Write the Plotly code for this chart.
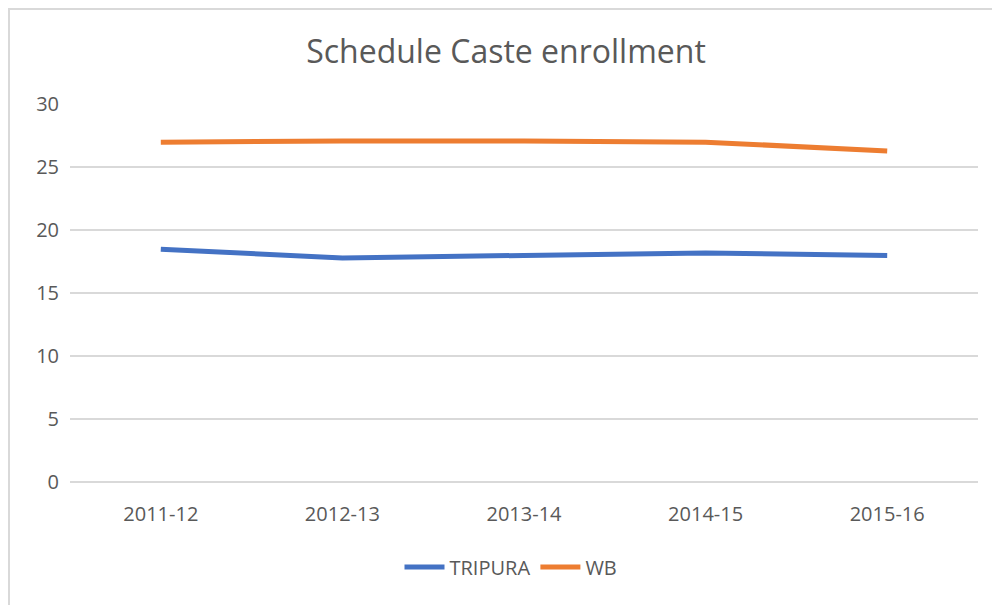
import plotly.graph_objects as go

years = ["2011-12", "2012-13", "2013-14", "2014-15", "2015-16"]
tripura = [18.5, 17.8, 18.0, 18.2, 18.0]
wb = [27.0, 27.1, 27.1, 27.0, 26.3]
y_ticks = [0, 5, 10, 15, 20, 25, 30]

TEXT = "#595959"
GRID = "#d9d9d9"
FONT = "Open Sans"

fig = go.Figure()
fig.add_trace(go.Scatter(x=years, y=tripura, name="TRIPURA", mode="lines",
                         line=dict(color="#4472C4", width=5)))
fig.add_trace(go.Scatter(x=years, y=wb, name="WB", mode="lines",
                         line=dict(color="#ED7D31", width=5)))

# page has an 8px body margin, so figure coords = screenshot coords - 8
OFF = 8
W, H = 1000, 605
L, T = 70 - OFF, 104 - OFF
R = W - (978 - OFF)
B = H - (482 - OFF)
pw = W - L - R
ph = H - T - B

fig.update_layout(
    width=W, height=H,
    margin=dict(l=L, r=R, t=T, b=B, autoexpand=False),
    paper_bgcolor="white", plot_bgcolor="white",
    font=dict(family=FONT, color=TEXT, size=20),
    title=dict(text="Schedule Caste enrollment", x=(506 - OFF) / W, xanchor="center",
               y=1 - (52 - OFF) / H, yanchor="middle",
               font=dict(family=FONT, size=32, color=TEXT)),
    showlegend=True,
    legend=dict(orientation="h", x=(511 - OFF - L) / pw, xanchor="center",
                y=(ph - (567 - OFF - T)) / ph, yanchor="middle",
                font=dict(family=FONT, size=20, color=TEXT),
                itemwidth=40, bgcolor="rgba(0,0,0,0)"),
    xaxis=dict(type="category", range=[-0.5, 4.5], showgrid=False, showline=False,
               zeroline=False, tickfont=dict(size=20, color=TEXT), ticks="",
               automargin=False, ticklabelstandoff=18, fixedrange=True),
    yaxis=dict(range=[0, 30.03], tickvals=y_ticks, showgrid=True, gridcolor=GRID,
               gridwidth=1.5, zeroline=True, zerolinecolor=GRID, zerolinewidth=1.5,
               showline=False, tickfont=dict(size=20, color=TEXT), ticks="",
               automargin=False, ticklabelstandoff=10, fixedrange=True),
    shapes=[
        dict(type="line", xref="paper", yref="paper",
             x0=(1 - L) / pw, x1=(1 - L) / pw,
             y0=(ph - (H + 5 - T)) / ph, y1=(ph - (0 - T)) / ph,
             line=dict(color=GRID, width=2)),
        dict(type="line", xref="paper", yref="paper",
             x0=(0 - L) / pw, x1=(W + 5 - L) / pw,
             y0=(ph - (1 - T)) / ph, y1=(ph - (1 - T)) / ph,
             line=dict(color=GRID, width=2)),
    ],
)

fig.write_html("out.html")
